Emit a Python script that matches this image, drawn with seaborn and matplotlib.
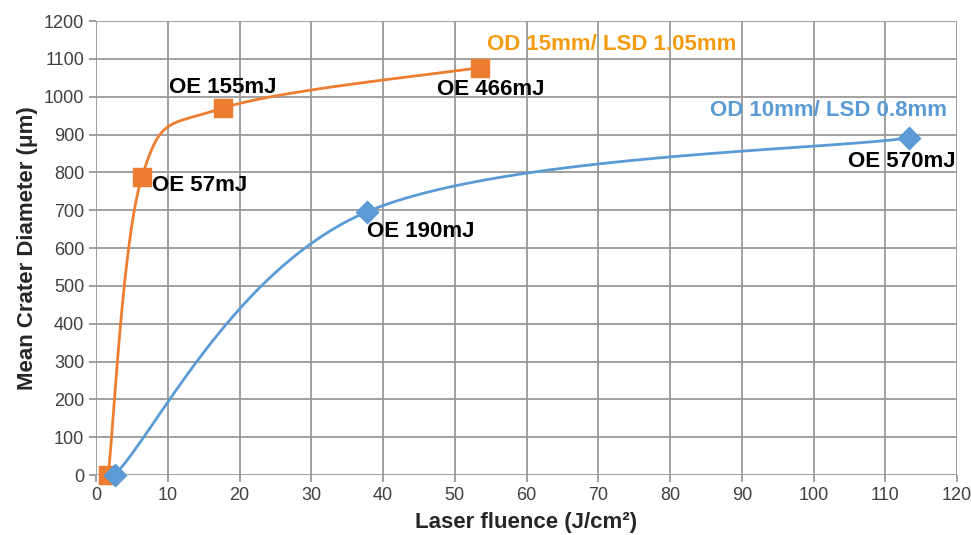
import numpy as np
import pandas as pd
import matplotlib
matplotlib.use('Agg')
import matplotlib.pyplot as plt
import seaborn as sns

# data
od15_fluence = [1.7, 6.4, 17.7, 53.5]
od15_diam = [0, 788, 970, 1077]
od15_labels = ['', 'OE 57mJ', 'OE 155mJ', 'OE 466mJ']

od10_fluence = [2.6, 37.8, 113.3]
od10_diam = [0, 696, 891]
od10_labels = ['', 'OE 190mJ', 'OE 570mJ']

ORANGE = '#ED7D31'
BLUE = '#5B9BD5'

X_MAX, Y_MAX = 120, 1200
SX, SY = 861 / X_MAX, 454 / Y_MAX  # pixel scale, for screen-space smoothing


def smooth(xs, ys, n=60):
    # Excel-style smoothed line: Catmull-Rom bezier in screen space
    p = np.column_stack([np.array(xs) * SX, np.array(ys) * SY])
    p = np.vstack([p[0], p, p[-1]])
    out = []
    for i in range(1, len(p) - 2):
        p0, p1, p2, p3 = p[i - 1], p[i], p[i + 1], p[i + 2]
        b1 = p1 + (p2 - p0) / 6
        b2 = p2 - (p3 - p1) / 6
        t = np.linspace(0, 1, n)[:, None]
        seg = ((1 - t) ** 3) * p1 + 3 * ((1 - t) ** 2) * t * b1 + 3 * (1 - t) * t ** 2 * b2 + t ** 3 * p2
        out.append(seg)
    out = np.vstack(out)
    return pd.DataFrame({'x': out[:, 0] / SX, 'y': out[:, 1] / SY})


sns.set_theme(style='white')
plt.rcParams['font.family'] = ['Liberation Sans', 'DejaVu Sans']

fig = plt.figure(figsize=(9.71, 5.35), dpi=100)
ax = fig.add_axes([0.0989, 0.1121, 0.8867, 0.8486])

curve15 = smooth(od15_fluence, od15_diam)
curve10 = smooth(od10_fluence, od10_diam)

sns.lineplot(data=curve15, x='x', y='y', sort=False, color=ORANGE, lw=2, ax=ax, zorder=3)
sns.lineplot(data=curve10, x='x', y='y', sort=False, color=BLUE, lw=2, ax=ax, zorder=3)
sns.scatterplot(x=od15_fluence, y=od15_diam, marker='s', s=165, color=ORANGE,
                edgecolor=ORANGE, ax=ax, zorder=4, clip_on=False)
sns.scatterplot(x=od10_fluence, y=od10_diam, marker='D', s=130, color=BLUE,
                edgecolor=BLUE, ax=ax, zorder=5, clip_on=False)

ax.set_xlim(0, X_MAX)
ax.set_ylim(0, Y_MAX)
ax.set_xticks(range(0, 121, 10))
ax.set_yticks(range(0, 1201, 100))
ax.grid(True, color='#999999', lw=1.3)
for s in ax.spines.values():
    s.set_visible(False)
ax.tick_params(axis='both', labelsize=13, colors='#999999', labelcolor='#404040',
               length=5, width=1.3, direction='out', left=True, bottom=True)

ax.set_xlabel('Laser fluence (J/cm²)', fontsize=16, fontweight='bold', labelpad=6)
ax.set_ylabel('Mean Crater Diameter (μm)', fontsize=16, fontweight='bold', labelpad=4)

lab_kw = dict(fontsize=16, fontweight='bold', color='black', zorder=6)
ax.text(7.8, 765, od15_labels[1], ha='left', va='center', **lab_kw)
ax.text(17.6, 1024, od15_labels[2], ha='center', va='center', **lab_kw)
ax.text(55.0, 1018, od15_labels[3], ha='center', va='center', **lab_kw)
ax.text(37.8, 643, od10_labels[1], ha='left', va='center', **lab_kw)
ax.text(119.8, 828, od10_labels[2], ha='right', va='center', **lab_kw)

ax.text(54.5, 1137, 'OD 15mm/ LSD 1.05mm', ha='left', va='center', fontsize=16,
        fontweight='bold', color='#F39C12', zorder=6)
ax.text(118.6, 963, 'OD 10mm/ LSD 0.8mm', ha='right', va='center', fontsize=16,
        fontweight='bold', color=BLUE, zorder=6)

plt.savefig('out.png', dpi=100)
